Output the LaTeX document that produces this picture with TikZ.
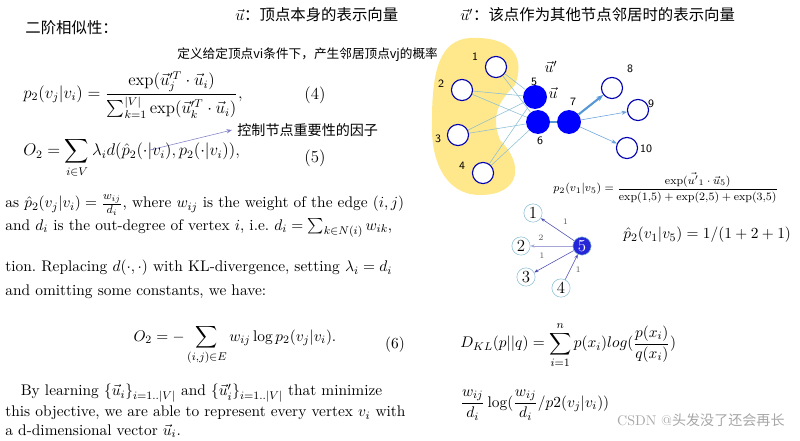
\documentclass[tikz,border=0pt,11pt]{standalone}
\usepackage{amsmath}
\usepackage{fontspec}
\newfontfamily\cjk{Noto Sans CJK SC}
\usetikzlibrary{arrows.meta}
\tikzset{open/.style = {draw=blue!70!black, thick, circle, fill=white, inner sep = 0, minimum size = 15}}
\tikzset{full/.style = {fill=blue, circle, inner sep = 0, minimum size = 17}}
\tikzset{thin/.style = {draw=cyan!50!gray!70, line width=0.4pt}}
\tikzset{small/.style = {draw=blue!60!gray, circle, thin, fill=white, inner sep = 0, minimum size = 13, font=\large}}
\tikzset{wt/.style = {font=\tiny, text=gray!70!black}}
\begin{document}
\begin{tikzpicture}[x=0.025cm, y=-0.025cm]
    \useasboundingbox (0,0) rectangle (800,440);
    % headings
    \node [anchor=west] at (20,28) {\cjk 二阶相似性：};
    \node [anchor=west] at (230,15) {$\vec{u}$\cjk：顶点本身的表示向量};
    \node [anchor=west] at (455,15) {$\vec{u}'$\cjk：该点作为其他节点邻居时的表示向量};
    \node [anchor=west, font=\footnotesize] at (172,55) {\cjk 定义给定顶点vi条件下，产生邻居顶点vj的概率};
    % equations left
    \node [anchor=west, font=\large] at (18,95) {$p_2(v_j|v_i)=\dfrac{\exp(\vec{u}_j'^{T}\cdot\vec{u}_i)}{\sum_{k=1}^{|V|}\exp(\vec{u}_k'^{T}\cdot\vec{u}_i)},$};
    \node [font=\large] at (315,95) {(4)};
    \node [anchor=west, font=\small] (fac) at (232,130) {\cjk 控制节点重要性的因子};
    \coordinate (lam) at (150,150);
    \draw [blue!40!gray!70, -{Stealth[length=4pt]}] (lam) -- (fac.west);
    \node [anchor=west, font=\large] at (18,158) {$O_2=\displaystyle\sum_{i\in V}\lambda_i d(\hat{p}_2(\cdot|v_i),p_2(\cdot|v_i)),$};
    \node [font=\large] at (315,158) {(5)};
    \node [anchor=west] at (0,205) {as $\hat{p}_2(v_j|v_i)=\frac{w_{ij}}{d_i}$, where $w_{ij}$ is the weight of the edge $(i,j)$};
    \node [anchor=west] at (0,228) {and $d_i$ is the out-degree of vertex $i$, i.e.\ $d_i=\sum_{k\in N(i)}w_{ik}$,};
    \node [anchor=west] at (0,268) {tion.\ Replacing $d(\cdot,\cdot)$ with KL-divergence, setting $\lambda_i=d_i$};
    \node [anchor=west] at (0,292) {and omitting some constants, we have:};
    \node at (235,345) {$O_2=-\displaystyle\sum_{(i,j)\in E}w_{ij}\log p_2(v_j|v_i).$};
    \node at (395,345) {(6)};
    \node [anchor=west] at (0,393) {\quad By learning $\{\vec{u}_i\}_{i=1..|V|}$ and $\{\vec{u}_i'\}_{i=1..|V|}$ that minimize};
    \node [anchor=west] at (0,413) {this objective, we are able to represent every vertex $v_i$ with};
    \node [anchor=west] at (0,431) {a d-dimensional vector $\vec{u}_i$.};
    % yellow region
    \fill [orange!40!yellow!45] (470,38) .. controls (515,36) and (525,60) .. (515,85)
        .. controls (500,100) and (490,115) .. (500,140)
        .. controls (525,165) and (520,195) .. (480,195)
        .. controls (445,195) and (430,160) .. (432,120)
        .. controls (432,70) and (440,40) .. (470,38);
    % big graph
    \node [open] (n1) at (496,67) {};
    \node [open] (n2) at (462,90) {};
    \node [open] (n3) at (458,135) {};
    \node [open] (n4) at (483,173) {};
    \node [full] (n5) at (535,97) {};
    \node [full] (n6) at (538,122) {};
    \node [full] (n7) at (569,122) {};
    \node [open] (n8) at (612,88) {};
    \node [open] (n9) at (638,110) {};
    \node [open] (n10) at (627,148) {};
    \foreach \a in {n1,n2,n3,n4}
        \foreach \b in {n5,n6}
            \draw [thin] (\a) -- (\b);
    \draw [cyan!60!blue!70, line width=2pt] (n6) -- (n7);
    \draw [cyan!60!blue!70, line width=1.5pt, -{Stealth[length=5pt]}] (n7) -- (n8);
    \draw [cyan!60!blue!60, -{Stealth[length=4pt]}] (n7) -- (n9);
    \draw [cyan!60!blue!60, -{Stealth[length=4pt]}] (n7) -- (n10);
    \foreach \n/\t/\x/\y in {1/1/475/57, 2/2/441/84, 3/3/438/139, 4/4/462/166, 5/5/534/82, 6/6/540/141, 7/7/573/102, 8/8/630/69, 9/9/651/104, 10/10/646/149}
        \node [font=\sffamily\scriptsize] at (\x,\y) {\t};
    \node at (551,67) {$\vec{u}'$};
    \node at (553,93) {$\vec{u}$};
    % small graph
    \node [anchor=west, font=\scriptsize] at (548,188) {$p_2(v_1|v_5)=\dfrac{\exp(\vec{u'}_1\cdot\vec{u}_5)}{\exp(1{,}5)+\exp(2{,}5)+\exp(3{,}5)}$};
    \node [small] (s1) at (533,213) {1};
    \node [small] (s2) at (521,246) {2};
    \node [small] (s3) at (526,277) {3};
    \node [small] (s4) at (561,288) {4};
    \node [small, fill=blue!70!gray, text=white] (s5) at (582,246) {5};
    \draw [blue!40!gray, -{Stealth[length=3pt]}] (s5) -- node [wt, above right] {1} (s1);
    \draw [blue!40!gray!50, -{Stealth[length=3pt]}] (s5) -- node [wt, above, pos=0.75] {2} (s2);
    \draw [blue!40!gray, -{Stealth[length=3pt]}] (s5) -- node [wt, above left, pos=0.6] {1} (s3);
    \draw [blue!40!gray, -{Stealth[length=3pt]}] (s4) -- node [wt, right, pos=0.4] {1} (s5);
    \node [anchor=west] at (618,235) {$\hat{p}_2(v_1|v_5)=1/(1+2+1)$};
    % KL
    \node [anchor=west] at (455,345) {$D_{KL}(p||q)=\displaystyle\sum_{i=1}^{n}p(x_i)log(\frac{p(x_i)}{q(x_i)})$};
    \node [anchor=west] at (455,405) {$\dfrac{w_{ij}}{d_i}\log(\dfrac{w_{ij}}{d_i}/p2(v_j|v_i))$};
    \node [anchor=east, text=gray!70, font=\small] at (790,420) {CSDN @\cjk 头发没了还会再长};
\end{tikzpicture}
\end{document}
